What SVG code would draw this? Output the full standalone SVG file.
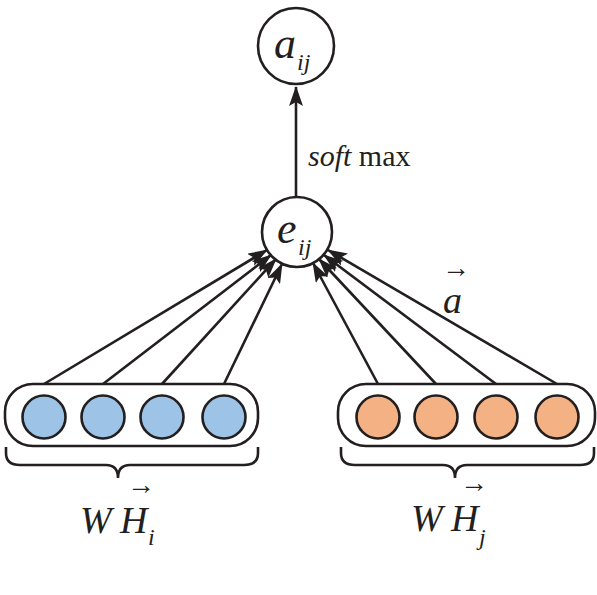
<svg xmlns="http://www.w3.org/2000/svg" width="597" height="595" viewBox="0 0 597 595">
<style>
.n{fill:#fff;stroke:#231f20;stroke-width:2.6}
.box{fill:#fff;stroke:#231f20;stroke-width:2.6}
.b{fill:#9dc3e6;stroke:#231f20;stroke-width:2.6}
.o{fill:#f4b183;stroke:#231f20;stroke-width:2.6}
.e{stroke:#231f20;stroke-width:2.6;fill:none}
.br{stroke:#231f20;stroke-width:2.6;fill:none}
.t{font-family:"Liberation Serif",serif;fill:#231f20}
.i{font-style:italic}
</style>
<defs>
<marker id="ah" viewBox="0 0 20 14" refX="19" refY="7" markerWidth="20" markerHeight="14" markerUnits="userSpaceOnUse" orient="auto">
<path d="M0,0 L20,7 L0,14 L4,7 Z" fill="#231f20"/>
</marker>
</defs>
<g id="connectors">
<line class="e" x1="296" y1="196" x2="296" y2="87" marker-end="url(#ah)"/>
<line class="e" x1="44" y1="384" x2="267" y2="250" marker-end="url(#ah)"/>
<line class="e" x1="103" y1="384" x2="271" y2="255" marker-end="url(#ah)"/>
<line class="e" x1="162" y1="384" x2="276" y2="259" marker-end="url(#ah)"/>
<line class="e" x1="224" y1="384" x2="282" y2="264" marker-end="url(#ah)"/>
<line class="e" x1="378" y1="384" x2="313" y2="263" marker-end="url(#ah)"/>
<line class="e" x1="436" y1="384" x2="319" y2="259" marker-end="url(#ah)"/>
<line class="e" x1="496" y1="384" x2="324" y2="255" marker-end="url(#ah)"/>
<line class="e" x1="557" y1="384" x2="328" y2="250" marker-end="url(#ah)"/>
</g>
<g id="a_ij">
<circle class="n" cx="296" cy="46" r="38"/>
<text class="t i" x="274" y="58" font-size="44">a</text>
<text class="t i" x="297" y="70" font-size="24">ij</text>
</g>
<g id="softmax_label">
<text class="t" x="308" y="166" font-size="30"><tspan class="i">soft</tspan> max</text>
</g>
<g id="e_ij">
<circle class="n" cx="297" cy="232" r="35"/>
<text class="t i" x="277" y="243" font-size="44">e</text>
<text class="t i" x="298" y="255" font-size="24">ij</text>
</g>
<g id="a_vec">
<text class="t" x="442" y="277" font-size="28">→</text>
<text class="t i" x="443" y="313" font-size="38">a</text>
</g>
<g id="left_group">
<rect class="box" x="5" y="384" width="253" height="62" rx="28"/>
<circle class="b" cx="44" cy="417" r="21.5"/>
<circle class="b" cx="103" cy="417" r="21.5"/>
<circle class="b" cx="162" cy="417" r="21.5"/>
<circle class="b" cx="224" cy="417" r="21.5"/>
<path class="br" d="M6,447 V453 Q6,465 20,465 H106 Q118,465 118,478 Q118,465 130,465 H244 Q258,465 258,453 V447"/>
<text class="t i" x="80" y="533" font-size="38">W</text>
<text class="t" x="127" y="494" font-size="28">→</text>
<text class="t i" x="120" y="533" font-size="38">H</text>
<text class="t i" x="148" y="545" font-size="24">i</text>
</g>
<g id="right_group">
<rect class="box" x="338" y="384" width="257" height="62" rx="28"/>
<circle class="o" cx="378" cy="417" r="21.5"/>
<circle class="o" cx="436" cy="417" r="21.5"/>
<circle class="o" cx="496" cy="417" r="21.5"/>
<circle class="o" cx="557" cy="417" r="21.5"/>
<path class="br" d="M341,447 V453 Q341,465 355,465 H443 Q455,465 455,478 Q455,465 467,465 H580 Q594,465 594,453 V447"/>
<text class="t i" x="411" y="531" font-size="38">W</text>
<text class="t" x="460" y="492" font-size="28">→</text>
<text class="t i" x="451" y="531" font-size="38">H</text>
<text class="t i" x="479" y="545" font-size="24">j</text>
</g>
</svg>
